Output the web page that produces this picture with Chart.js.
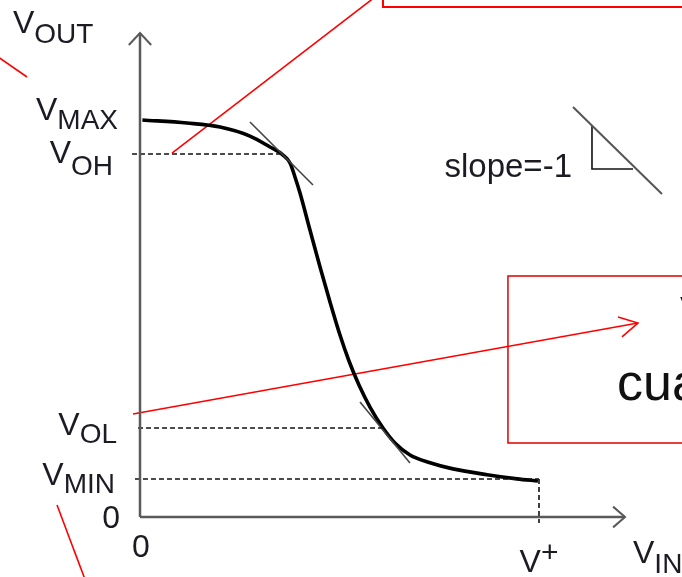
<!DOCTYPE html>
<html>
<head>
<meta charset="utf-8">
<script src="https://cdn.jsdelivr.net/npm/chart.js@4.4.1/dist/chart.umd.min.js"></script>
<style>
  html, body { margin: 0; padding: 0; background: #fff; overflow: hidden; }
  canvas { display: block; }
</style>
</head>
<body>
<canvas id="vtc" width="682" height="577"></canvas>
<script>
// Levels (arbitrary volt-like units, V+ = 5)
const V_PLUS = 5;
const V_MAX = 4.975;
const V_OH = 4.549;
const V_OL = 1.115;
const V_MIN = 0.476;

// Transfer curve
const curveX = [0.03, 0.589, 1.003, 1.378, 1.629, 1.792, 1.880, 1.942, 2.005, 2.130, 2.256, 2.381, 2.506, 2.619, 2.744, 2.882, 3.045, 3.195, 3.383, 3.634, 3.922, 4.348, 4.724, 4.987];
const curveY = [4.975, 4.937, 4.887, 4.774, 4.637, 4.536, 4.436, 4.261, 4.060, 3.596, 3.133, 2.694, 2.280, 1.955, 1.654, 1.378, 1.115, 0.927, 0.777, 0.680, 0.603, 0.530, 0.478, 0.451];

// Tangents (slope = -1 points)
const tangentHigh = [[1.378, 4.950], [2.168, 4.160]];
const tangentLow = [[2.757, 1.441], [3.383, 0.677]];

// Slope legend triangle
const slopeLine = [[5.426, 5.138], [6.541, 4.048]];
const slopeLegs = [[5.664, 4.912], [5.664, 4.361], [6.178, 4.361]];

// Axes
const yAxisTop = 6.065;
const xAxisEnd = 6.078;

// Y labels
const yLevels = [V_MAX, V_OH, V_OL, V_MIN];
const ySubs = ['MAX', 'OH', 'OL', 'MIN'];

// Red annotations
const redLineTop = [[0.401, 4.561], [2.945, 6.516]];
const redBoxTop = [[3.045, 6.7], [3.045, 6.391], [7.0, 6.391]];
const redLineLeft = [[-1.80, 5.78], [-1.416, 5.514]];
const redLineBottom = [[-1.040, 0.150], [-0.69, -0.78]];
const redArrow = [[-0.088, 1.291], [6.240, 2.431]];
const redArrowHead = [[5.990, 2.506], [6.240, 2.431], [6.040, 2.256]];
const redBoxMid = [[7.0, 3.020], [4.611, 3.020], [4.611, 0.927], [7.0, 0.927]];

const PX_PER_UNIT = 79.8;
const W = 682, H = 577, ORIGIN_X = 140, ORIGIN_Y = 517;

const pts = arr => arr.map(p => ({ x: p[0], y: p[1] }));
const line = (data, color, width, dash) => ({
  data, showLine: true, pointRadius: 0, borderColor: color, borderWidth: width,
  borderDash: dash || [], tension: 0, fill: false
});

const TEXT = '#1b1b24';
const MAIN_FONT = '32px "Liberation Sans", Arial, sans-serif';
const SUB_FONT = '28px "Liberation Sans", Arial, sans-serif';

// per label: right edge from axis, main baseline, sub baseline (px)
const yLabelNudge = [[-22, 0, 9], [-27, 9, 21], [-23, 7, 15], [-25, 6, 14]];

function drawSub(ctx, main, sub, xLeft, yMain, ySub, subFont) {
  ctx.font = MAIN_FONT;
  ctx.fillText(main, xLeft, yMain);
  const w = ctx.measureText(main).width;
  ctx.font = subFont || SUB_FONT;
  ctx.fillText(sub, xLeft + w, ySub);
}
function subWidth(ctx, main, sub, subFont) {
  ctx.font = MAIN_FONT;
  const a = ctx.measureText(main).width;
  ctx.font = subFont || SUB_FONT;
  return a + ctx.measureText(sub).width;
}

const labelsPlugin = {
  id: 'labels',
  afterDatasetsDraw(chart) {
    const ctx = chart.ctx, xs = chart.scales.x, ys = chart.scales.y;
    const ax = xs.getPixelForValue(0), ay = ys.getPixelForValue(0);
    ctx.save();
    ctx.fillStyle = TEXT;
    ctx.textBaseline = 'alphabetic';
    ctx.textAlign = 'left';

    // y level labels
    yLevels.forEach((v, i) => {
      const py = ys.getPixelForValue(v);
      const n = yLabelNudge[i];
      const w = subWidth(ctx, 'V', ySubs[i]);
      drawSub(ctx, 'V', ySubs[i], ax + n[0] - w, py + n[1], py + n[2]);
    });

    // axis titles
    const topY = ys.getPixelForValue(yAxisTop);
    drawSub(ctx, 'V', 'OUT', ax - 127, topY, topY + 10);
    const endX = xs.getPixelForValue(xAxisEnd);
    drawSub(ctx, 'V', 'IN', endX + 8, ay + 46, ay + 56);

    // zeros
    ctx.font = MAIN_FONT;
    ctx.textAlign = 'right';
    ctx.fillText('0', ax - 20, ay + 11);
    ctx.textAlign = 'center';
    ctx.fillText('0', ax + 1, ay + 40);

    // V+
    ctx.textAlign = 'left';
    const vp = xs.getPixelForValue(V_PLUS);
    const supFont = '30px "Liberation Sans", Arial, sans-serif';
    const wv = subWidth(ctx, 'V', '+', supFont);
    drawSub(ctx, 'V', '+', vp - wv / 2, ay + 55, ay + 45, supFont);

    // slope legend
    ctx.font = '33px "Liberation Sans", Arial, sans-serif';
    ctx.textAlign = 'right';
    ctx.fillText('slope=-1', xs.getPixelForValue(slopeLegs[0][0]) - 20, ys.getPixelForValue(slopeLegs[1][1]) + 8);

    // text inside middle box (cut by the frame)
    ctx.fillStyle = '#111';
    ctx.textAlign = 'left';
    ctx.font = '52px "Liberation Sans", Arial, sans-serif';
    const bx = xs.getPixelForValue(redBoxMid[1][0]);
    const by = ys.getPixelForValue(redBoxMid[1][1]);
    ctx.fillText('cua', bx + 109, by + 124);
    ctx.fillText('V', bx + 172, by + 57);
    ctx.restore();
  }
};

new Chart(document.getElementById('vtc'), {
  type: 'scatter',
  data: {
    datasets: [
      // axes
      line(pts([[0, 0], [0, yAxisTop]]), '#5a5a5a', 2.5),
      line(pts([[-0.14, yAxisTop - 0.15], [0, yAxisTop], [0.14, yAxisTop - 0.15]]), '#5a5a5a', 2),
      line(pts([[0, 0], [xAxisEnd, 0]]), '#5a5a5a', 2.5),
      line(pts([[xAxisEnd - 0.15, 0.13], [xAxisEnd, 0], [xAxisEnd - 0.15, -0.13]]), '#5a5a5a', 2),
      // dashed guides
      line(pts([[-0.10, V_OH], [1.792, V_OH]]), '#111', 1.6, [5, 3]),
      line(pts([[-0.025, V_OL], [3.045, V_OL]]), '#111', 1.6, [5, 3]),
      line(pts([[-0.063, V_MIN], [V_PLUS, V_MIN]]), '#111', 1.6, [5, 3]),
      line(pts([[V_PLUS, V_MIN], [V_PLUS, -0.075]]), '#111', 1.6, [5, 3]),
      // tangents
      line(pts(tangentHigh), '#444', 1.6),
      line(pts(tangentLow), '#444', 1.6),
      // transfer curve
      Object.assign(line(curveX.map((x, i) => ({ x, y: curveY[i] })), '#000', 3.6), { cubicInterpolationMode: 'monotone' }),
      // slope legend
      line(pts(slopeLine), '#555', 2),
      line(pts(slopeLegs), '#111', 1.6),
      // red annotations
      line(pts(redLineTop), '#ff0000', 1.6),
      line(pts(redBoxTop), '#ff0000', 2),
      line(pts(redLineLeft), '#ff0000', 1.6),
      line(pts(redLineBottom), '#ff0000', 1.6),
      line(pts(redArrow), '#ff0000', 1.6),
      line(pts(redArrowHead), '#ff0000', 1.6),
      line(pts(redBoxMid), '#e00000', 1.5)
    ]
  },
  options: {
    responsive: false,
    animation: false,
    devicePixelRatio: 1,
    layout: { padding: 0 },
    plugins: { legend: { display: false }, tooltip: { enabled: false } },
    scales: {
      x: { type: 'linear', display: false, min: -ORIGIN_X / PX_PER_UNIT, max: (W - ORIGIN_X) / PX_PER_UNIT },
      y: { type: 'linear', display: false, min: -(H - ORIGIN_Y) / PX_PER_UNIT, max: ORIGIN_Y / PX_PER_UNIT }
    }
  },
  plugins: [labelsPlugin]
});
</script>
</body>
</html>
